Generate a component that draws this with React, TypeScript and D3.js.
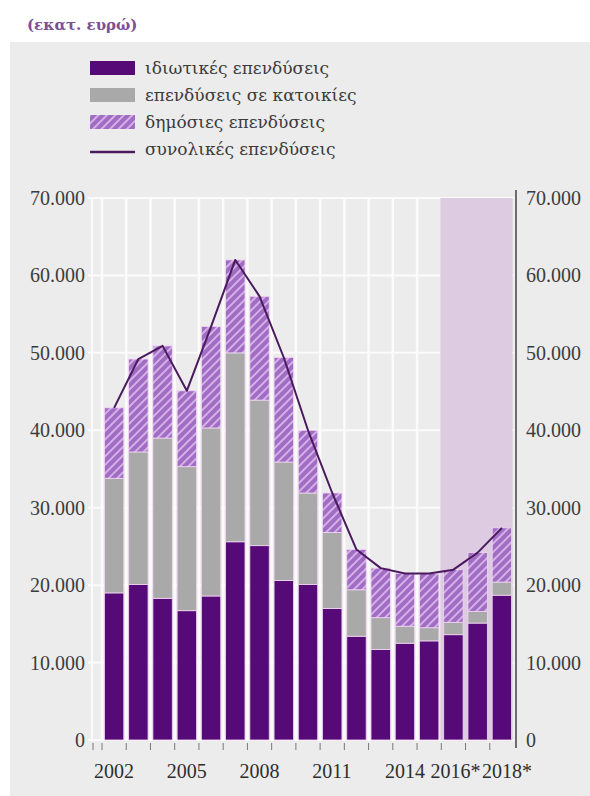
import React from "react";
import * as d3 from "d3";

// Investment in Greece, million euros (2016–2018 are projections)
const years = [
  "2002", "2003", "2004", "2005", "2006", "2007", "2008", "2009", "2010",
  "2011", "2012", "2013", "2014", "2015", "2016", "2017", "2018",
];
const privateInv = [19000, 20100, 18300, 16700, 18600, 25600, 25100, 20600, 20100, 17000, 13400, 11700, 12500, 12800, 13600, 15100, 18700];
const housingInv = [14800, 17100, 20700, 18600, 21700, 24400, 18800, 15300, 11800, 9800, 6000, 4100, 2200, 1700, 1600, 1500, 1700];
const publicInv = [9100, 12000, 11900, 9800, 13100, 12000, 13400, 13500, 8100, 5100, 5200, 6400, 6800, 7000, 6800, 7600, 7000];
const totalInv = [42900, 49200, 50900, 45100, 53400, 62000, 57300, 49400, 40000, 31900, 24600, 22200, 21500, 21500, 22000, 24200, 27400];

const labelledYears = ["2002", "2005", "2008", "2011", "2014", "2016", "2018"];
const projectedYears = ["2016", "2017", "2018"];
const yTicks = [0, 10000, 20000, 30000, 40000, 50000, 60000, 70000];

const legendItems = [
  "ιδιωτικές επενδύσεις",
  "επενδύσεις σε κατοικίες",
  "δημόσιες επενδύσεις",
  "συνολικές επενδύσεις",
];
const unitLabel = "(εκατ. ευρώ)";

const C_PRIVATE = "#560a78";
const C_HOUSING = "#a9a9a9";
const C_PUBLIC = "#a06cc4";
const C_PUBLIC_STRIPE = "#d3b0e6";
const C_TOTAL = "#4a1a5e";
const C_BG = "#ececec";
const C_PROJ = "#dccbe1";
const FONT = "'Liberation Serif', 'DejaVu Serif', serif";
const FONT_GREEK = "'DejaVu Serif', serif";

const fmt = (v: number) => d3.format(",")(v).replace(/,/g, ".");

export default function App() {
  const W = 590;
  const H = 796;
  const plotRight = 516;
  const yTop = 198;
  const yBottom = 740;

  const x = d3.scaleBand<string>().domain(years).range([102, 514]).paddingInner(0.2).paddingOuter(0.1);
  const y = d3.scaleLinear().domain([0, 70000]).range([yBottom, yTop]);
  const step = x.step();
  const gapHalf = (step - x.bandwidth()) / 2;
  const boundaries = years.map((yr) => (x(yr) as number) - gapHalf);

  const rows = years.map((yr, i) => ({
    yr,
    priv: privateInv[i],
    hous: housingInv[i],
    pub: publicInv[i],
  }));
  const stack = d3.stack<any>().keys(["priv", "hous", "pub"])(rows);
  const fills = [C_PRIVATE, C_HOUSING, "url(#hatch)"];

  const line = d3
    .line<number>()
    .x((_, i) => (x(years[i]) as number) + x.bandwidth() / 2)
    .y((d) => y(d));

  const projStart = (x(projectedYears[0]) as number) - gapHalf;
  const projEnd = (x(projectedYears[projectedYears.length - 1]) as number) + x.bandwidth() + 1;

  return (
    <div style={{ position: "absolute", left: 0, top: 0 }}>
      <svg width={W} height={H} style={{ display: "block" }}>
        <defs>
          <pattern id="hatch" patternUnits="userSpaceOnUse" width={6} height={6} patternTransform="rotate(45)">
            <rect width={6} height={6} fill={C_PUBLIC} />
            <rect x={0} y={0} width={2} height={6} fill={C_PUBLIC_STRIPE} />
          </pattern>
        </defs>
        <rect width={W} height={H} fill="#ffffff" />
        <rect x={10} y={42} width={W - 10} height={H - 42} fill={C_BG} />

        <text x={27} y={30} fontFamily={FONT_GREEK} fontSize={15} fontWeight="bold" fill="#7b4f94">
          {unitLabel}
        </text>

        {/* legend */}
        <g fontFamily={FONT_GREEK} fontSize={17} fill="#3a3a3a">
          <rect x={90} y={61} width={45} height={14} fill={C_PRIVATE} />
          <rect x={90} y={88} width={45} height={14} fill={C_HOUSING} />
          <rect x={90} y={115} width={45} height={14} fill="url(#hatch)" />
          <line x1={90} x2={135} y1={152} y2={152} stroke={C_TOTAL} strokeWidth={2.5} />
          {legendItems.map((t, i) => (
            <text key={t} x={145} y={74 + i * 27}>
              {t}
            </text>
          ))}
        </g>

        {/* grid */}
        <g stroke="#fbfbfb">
          {yTicks.map((t) => (
            <line key={t} x1={88} x2={plotRight - 2} y1={y(t)} y2={y(t)} strokeWidth={2} />
          ))}
          <line x1={92} x2={92} y1={yTop} y2={yBottom} strokeWidth={2} />
          {boundaries.map((b, i) => (
            <line key={i} x1={b} x2={b} y1={yTop} y2={yBottom} strokeWidth={2.5} />
          ))}
        </g>

        {/* projection shading */}
        <rect x={projStart - 1} y={yTop} width={projEnd - projStart + 1} height={yBottom - yTop} fill={C_PROJ} />

        {/* stacked bars */}
        {stack.map((layer, li) => (
          <g key={li}>
            {layer.map((d, i) => (
              <rect
                key={years[i]}
                x={x(years[i])}
                y={y(d[1])}
                width={x.bandwidth()}
                height={y(d[0]) - y(d[1])}
                fill={fills[li]}
                stroke="#f2d6f2"
                strokeWidth={0.8}
              />
            ))}
          </g>
        ))}

        {/* total investment line */}
        <path d={line(totalInv) || ""} fill="none" stroke={C_TOTAL} strokeWidth={2} strokeLinejoin="round" />

        {/* axes */}
        <line x1={plotRight} x2={plotRight} y1={190} y2={748} stroke="#444" strokeWidth={1.5} />
        <g stroke="#777" strokeWidth={1}>
          <line x1={93} x2={93} y1={743} y2={750} />
          {boundaries.map((b, i) => (
            <line key={i} x1={b} x2={b} y1={743} y2={750} />
          ))}
        </g>

        <g fontFamily={FONT} fontSize={20} fill="#3c3c3c">
          {yTicks.map((t) => (
            <text key={"l" + t} x={85} y={y(t)} dy="0.35em" textAnchor="end">
              {fmt(t)}
            </text>
          ))}
          {yTicks.map((t) => (
            <text key={"r" + t} x={526} y={y(t)} dy="0.35em" textAnchor="start">
              {fmt(t)}
            </text>
          ))}
        </g>

        <g fontFamily={FONT} fontSize={20} fill="#2e2e2e">
          {labelledYears.map((yr) => (
            <text
              key={yr}
              x={(x(yr) as number) + x.bandwidth() / 2 - (yr === "2016" ? 3 : 0)}
              y={778}
              dx="-1em"
              textAnchor="start"
            >
              {yr}
              {projectedYears.includes(yr) ? "*" : ""}
            </text>
          ))}
        </g>
      </svg>
    </div>
  );
}
